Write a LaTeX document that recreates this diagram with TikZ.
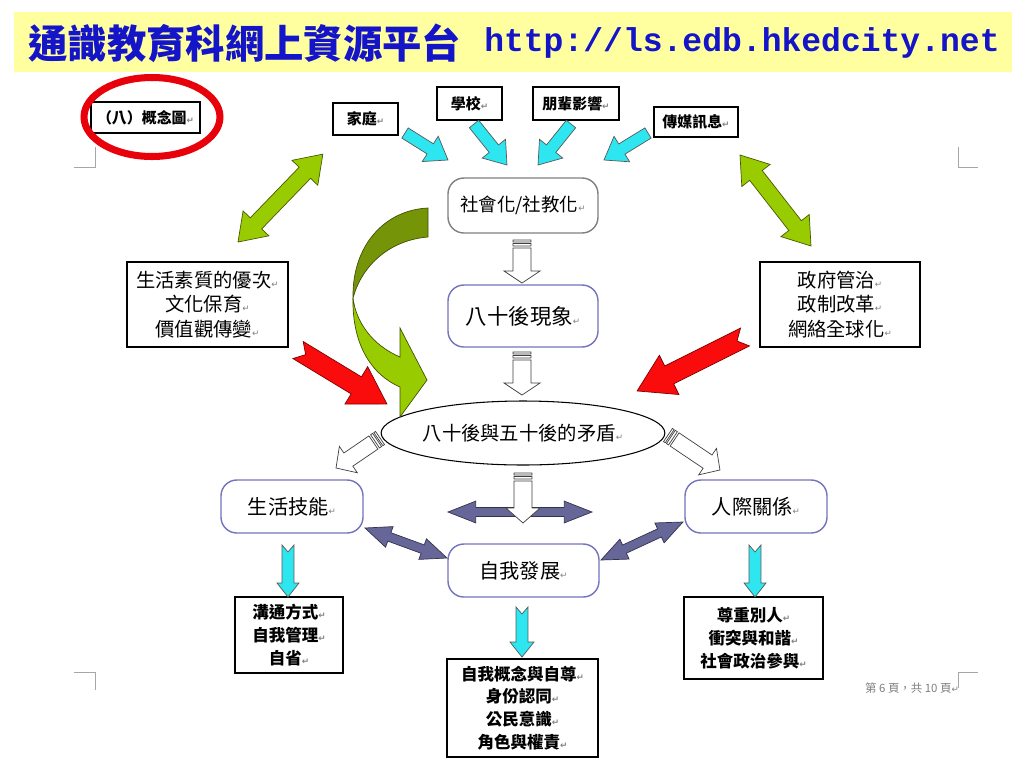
\documentclass[tikz,border=0pt]{standalone}
\usepackage{fontspec}
\setmainfont{Noto Sans CJK TC}
\newfontfamily\monof{Liberation Mono}
\newfontfamily\symf{DejaVu Sans}
\usetikzlibrary{calc,shapes.geometric}
\definecolor{titleyellow}{RGB}{255,255,160}
\definecolor{titleblue}{RGB}{20,20,200}
\definecolor{ringred}{RGB}{232,0,10}
\definecolor{boxpurple}{RGB}{115,115,190}
\definecolor{arrcyan}{RGB}{45,230,240}
\definecolor{arrgreen}{RGB}{153,204,0}
\definecolor{arrolive}{RGB}{118,148,8}
\definecolor{arrred}{RGB}{250,12,12}
\definecolor{arrpurple}{RGB}{102,102,153}

\newcommand{\pxu}{0.5669pt}
\newcommand{\parmark}{{\symf\fontsize{5}{5}\selectfont\color{gray}↵}}

% block arrow: [style]{from}{to}{shaft half}{head half}{head length}{notch}
\newcommand{\sglarrow}[7][]{%
  \draw[#1] let \p1=($(#3)-(#2)$), \n1={atan2(\y1,\x1)}, \n2={veclen(\x1,\y1)} in
    [shift={(#2)}, rotate=\n1]
    (0pt,#4*\pxu) -- ({\n2-#6*\pxu},#4*\pxu) -- ({\n2-#6*\pxu},#5*\pxu) -- (\n2,0pt)
    -- ({\n2-#6*\pxu},-#5*\pxu) -- ({\n2-#6*\pxu},-#4*\pxu) -- (0pt,-#4*\pxu)
    -- (#7*\pxu,0pt) -- cycle;}
% double block arrow: [style]{from}{to}{shaft half}{head half}{head length}
\newcommand{\dblarrow}[6][]{%
  \draw[#1] let \p1=($(#3)-(#2)$), \n1={atan2(\y1,\x1)}, \n2={veclen(\x1,\y1)} in
    [shift={(#2)}, rotate=\n1]
    (0pt,0pt) -- (#6*\pxu,#5*\pxu) -- (#6*\pxu,#4*\pxu) -- ({\n2-#6*\pxu},#4*\pxu)
    -- ({\n2-#6*\pxu},#5*\pxu) -- (\n2,0pt) -- ({\n2-#6*\pxu},-#5*\pxu)
    -- ({\n2-#6*\pxu},-#4*\pxu) -- (#6*\pxu,-#4*\pxu) -- (#6*\pxu,-#5*\pxu) -- cycle;}
% striped block arrow: [style]{from}{to}{shaft half}{head half}{head length}
\newcommand{\strarrow}[6][]{%
  \draw[#1] let \p1=($(#3)-(#2)$), \n1={atan2(\y1,\x1)}, \n2={veclen(\x1,\y1)} in
    [shift={(#2)}, rotate=\n1]
    (0pt,#4*\pxu) -- (2*\pxu,#4*\pxu) -- (2*\pxu,-#4*\pxu) -- (0pt,-#4*\pxu) -- cycle
    (3.5*\pxu,#4*\pxu) -- (6*\pxu,#4*\pxu) -- (6*\pxu,-#4*\pxu) -- (3.5*\pxu,-#4*\pxu) -- cycle
    (8*\pxu,#4*\pxu) -- ({\n2-#6*\pxu},#4*\pxu) -- ({\n2-#6*\pxu},#5*\pxu) -- (\n2,0pt)
    -- ({\n2-#6*\pxu},-#5*\pxu) -- ({\n2-#6*\pxu},-#4*\pxu) -- (8*\pxu,-#4*\pxu) -- cycle;}

\tikzset{
  titlebar/.style={fill=titleyellow, minimum width=19.96cm, minimum height=1.2cm, inner sep=0pt},
  titlezh/.style={text=titleblue, inner sep=0pt, font=\fontsize{22.4}{24}\selectfont\bfseries},
  titleurl/.style={text=titleblue, inner sep=0pt, font=\monof\fontsize{18.8}{20}\selectfont\bfseries},
  ring/.style={draw=ringred, line width=4pt},
  cropmark/.style={draw=gray!70, line width=0.5pt},
  tagbox/.style={draw, fill=white, inner sep=0pt, line width=0.6pt, font=\fontsize{8.5}{10}\selectfont\bfseries},
  sidebox/.style={draw, fill=white, inner sep=0pt, line width=0.6pt, align=center, font=\fontsize{11}{14}\selectfont},
  listbox/.style={draw, fill=white, inner sep=0pt, line width=0.6pt, align=center, font=\fontsize{9.4}{13}\selectfont\bfseries},
  softbox/.style={draw=boxpurple, fill=white, rounded corners=9pt, line width=0.8pt, inner sep=0pt, font=\fontsize{11.5}{14}\selectfont},
  greybox/.style={softbox, draw=gray},
  clash/.style={draw, ellipse, fill=white, inner sep=0pt, line width=0.6pt, font=\fontsize{11}{13}\selectfont},
  cyanarr/.style={fill=arrcyan, draw=black!65, line width=0.4pt},
  greenarr/.style={fill=arrgreen, draw=arrolive!60!black, line width=0.4pt},
  redarr/.style={fill=arrred, draw=red!50!black, line width=0.4pt},
  whitearr/.style={fill=white, draw=black!75, line width=0.4pt},
  purplearr/.style={fill=arrpurple, draw=arrpurple!50!black, line width=0.4pt},
  footnum/.style={text=gray, font=\fontsize{6.5}{8}\selectfont}
}

\begin{document}
\begin{tikzpicture}[x=0.02cm, y=-0.02cm]
  \fill[white] (0,0) rectangle (1024,768);
  \useasboundingbox (0,0) rectangle (1024,768);
  % title bar
  \node[titlebar] (titlebar) at (513,42) {};
  \node[titlezh, anchor=west] (titlezh) at (28,43) {通識教育科網上資源平台};
  \node[titleurl, anchor=east] (titleurl) at (1000,43) {http://ls.edb.hkedcity.net};
  % page corner marks
  \draw[cropmark] (74,167) -- (95,167) -- (95,147);
  \draw[cropmark] (958,147) -- (958,167) -- (978,167);
  \draw[cropmark] (74,672) -- (95,672) -- (95,690);
  \draw[cropmark] (958,688) -- (958,672) -- (978,672);
  % boxes
  \node[tagbox, minimum width=2.18cm, minimum height=0.62cm] (concept) at (145.5,117.5) {（八）概念圖\parmark};
  \draw[ring] (152,117) ellipse [x radius=1.36cm, y radius=0.79cm];
  \node[tagbox, minimum width=1.3cm, minimum height=0.64cm] (family) at (365.5,119) {家庭\parmark};
  \node[tagbox, minimum width=1.3cm, minimum height=0.66cm] (school) at (469.5,103.5) {學校\parmark};
  \node[tagbox, minimum width=1.72cm, minimum height=0.66cm] (peers) at (576,103.5) {朋輩影響\parmark};
  \node[tagbox, minimum width=1.68cm, minimum height=0.6cm] (media) at (696,122) {傳媒訊息\parmark};
  \node[greybox, minimum width=3.0cm, minimum height=1.1cm, font=\fontsize{10.5}{12}\selectfont] (social) at (523,205.5) {社會化/社教化\parmark};
  \node[softbox, minimum width=3.0cm, minimum height=1.24cm, font=\fontsize{12.2}{14}\selectfont] (post80) at (523,316) {八十後現象\parmark};
  \node[sidebox, minimum width=3.22cm, minimum height=1.7cm] (values) at (207.5,304.5) {生活素質的優次\parmark\\文化保育\parmark\\價值觀傳變\parmark};
  \node[sidebox, minimum width=3.2cm, minimum height=1.7cm] (govern) at (840,304.5) {政府管治\parmark\\政制改革\parmark\\網絡全球化\parmark};
  \node[clash, minimum width=5.6cm, minimum height=1.28cm] (conflict) at (523,433) {八十後與五十後的矛盾\parmark};
  \node[softbox, minimum width=2.84cm, minimum height=1.06cm] (skills) at (292,506.5) {生活技能\parmark};
  \node[softbox, minimum width=2.84cm, minimum height=1.06cm] (relation) at (756,506.5) {人際關係\parmark};
  \node[softbox, minimum width=3.02cm, minimum height=1.06cm] (selfdev) at (523.5,570.5) {自我發展\parmark};
  \node[listbox, minimum width=2.16cm, minimum height=1.52cm] (skilllist) at (289,635) {溝通方式\parmark\\自我管理\parmark\\自省\parmark};
  \node[listbox, minimum width=3.02cm, minimum height=1.96cm] (selflist) at (522.5,708) {自我概念與自尊\parmark\\身份認同\parmark\\公民意識\parmark\\角色與權責\parmark};
  \node[listbox, minimum width=2.78cm, minimum height=1.64cm] (rellist) at (753.5,638) {尊重別人\parmark\\衝突與和諧\parmark\\社會政治參與\parmark};
  \node[footnum] (pagefoot) at (912,688) {第 6 頁，共 10 頁\parmark};
  % arrow ends
  \coordinate (famA) at (405,133);   \coordinate (famB) at (448,160);
  \coordinate (schA) at (474,124);   \coordinate (schB) at (507,165);
  \coordinate (peerA) at (571,124);  \coordinate (peerB) at (538,165);
  \coordinate (medA) at (648,133);   \coordinate (medB) at (604,160);
  \coordinate (gL1) at (238,242);    \coordinate (gL2) at (323,154);
  \coordinate (gR1) at (811,246);    \coordinate (gR2) at (740,155);
  \coordinate (rLa) at (298,350);    \coordinate (rLb) at (387,404);
  \coordinate (rRa) at (745,337);    \coordinate (rRb) at (637,391);
  \coordinate (w1a) at (522,240);    \coordinate (w1b) at (522,283);
  \coordinate (w2a) at (522,352);    \coordinate (w2b) at (522,395);
  \coordinate (w3a) at (380,438);    \coordinate (w3b) at (336,468);
  \coordinate (w4a) at (668,435);    \coordinate (w4b) at (720,470);
  \coordinate (w5a) at (523,473);    \coordinate (w5b) at (523,523);
  \coordinate (pH1) at (448,512);    \coordinate (pH2) at (592,512);
  \coordinate (pL1) at (365,528);    \coordinate (pL2) at (447,558);
  \coordinate (pR1) at (601,560);    \coordinate (pR2) at (683,522);
  \coordinate (c1a) at (288,545);    \coordinate (c1b) at (288,597);
  \coordinate (c2a) at (522,607);    \coordinate (c2b) at (522,657);
  \coordinate (c3a) at (755,545);    \coordinate (c3b) at (755,597);
  % influences into socialisation
  \sglarrow[cyanarr]{famA}{famB}{6}{15}{21}{0}
  \sglarrow[cyanarr]{schA}{schB}{6}{15}{21}{0}
  \sglarrow[cyanarr]{peerA}{peerB}{6}{15}{21}{0}
  \sglarrow[cyanarr]{medA}{medB}{6}{15}{21}{0}
  % two-way links
  \dblarrow[greenarr]{gL1}{gL2}{8}{18}{26}
  \dblarrow[greenarr]{gR1}{gR2}{8}{18}{26}
  \sglarrow[redarr]{rLa}{rLb}{10}{22}{36}{9}
  \sglarrow[redarr]{rRa}{rRb}{10}{22}{36}{9}
  % curved arrow
  \draw[fill=arrolive, draw=arrolive!55!black, line width=0.4pt]
    (428,208) .. controls (385,210) and (352,245) .. (353,298)
    .. controls (362,265) and (390,240) .. (428,237) -- cycle;
  \draw[fill=arrgreen, draw=arrolive!55!black, line width=0.4pt]
    (353,298) .. controls (352,345) and (372,375) .. (400,387)
    -- (400,417) -- (427,380) -- (400,328) -- (400,357)
    .. controls (372,345) and (356,322) .. (353,298) -- cycle;
  % flow down the middle
  \strarrow[whitearr]{w1a}{w1b}{9}{18}{12}
  \strarrow[whitearr]{w2a}{w2b}{9}{18}{12}
  \strarrow[whitearr]{w3a}{w3b}{8}{16}{15}
  \strarrow[whitearr]{w4a}{w4b}{8}{16}{15}
  \dblarrow[purplearr]{pH1}{pH2}{4.5}{11}{28}
  \dblarrow[purplearr]{pL1}{pL2}{4.5}{11}{26}
  \dblarrow[purplearr]{pR1}{pR2}{4.5}{11}{26}
  \strarrow[whitearr]{w5a}{w5b}{9}{17}{15}
  \sglarrow[cyanarr]{c1a}{c1b}{6}{11}{14}{7}
  \sglarrow[cyanarr]{c2a}{c2b}{6}{12}{15}{7}
  \sglarrow[cyanarr]{c3a}{c3b}{6}{11}{14}{7}
\end{tikzpicture}
\end{document}
